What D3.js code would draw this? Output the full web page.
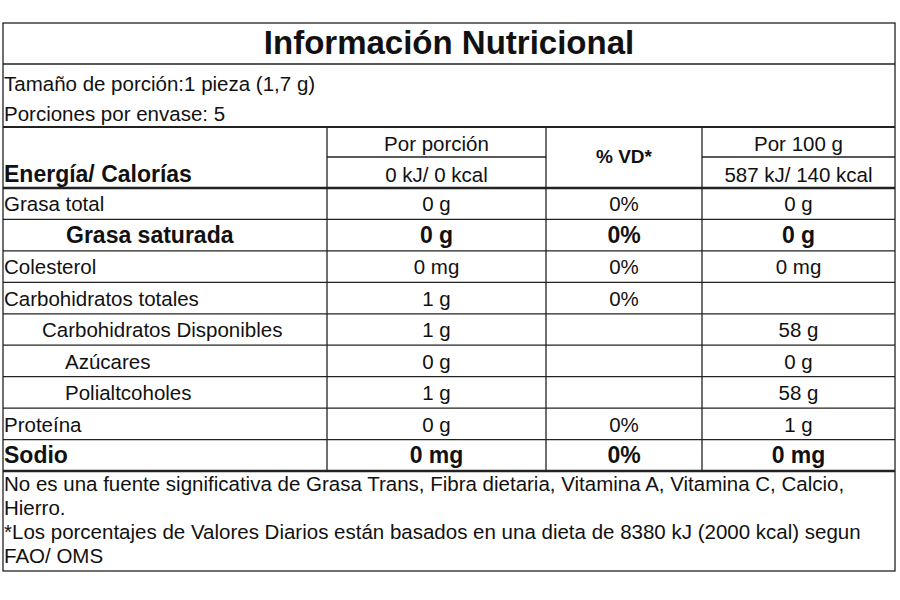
<!DOCTYPE html>
<html><head><meta charset="utf-8">
<script src="https://cdn.jsdelivr.net/npm/d3@7"></script>
<style>body{margin:0;background:#fff}text{font-family:"Liberation Sans",Arial,sans-serif;fill:#111}</style>
</head><body><svg width="900" height="600"></svg>
<script>
const title = "Información Nutricional";
const servingLines = ["Tamaño de porción:1 pieza (1,7 g)", "Porciones por envase: 5"];
const headerCols = ["Por porción", "% VD*", "Por 100 g"];
const energyLabel = "Energía/ Calorías";
const energyVals = ["0 kJ/ 0 kcal", "587 kJ/ 140 kcal"];
const nutrients = ["Grasa total","Grasa saturada","Colesterol","Carbohidratos totales","Carbohidratos Disponibles","Azúcares","Polialtcoholes","Proteína","Sodio"];
const perPortion = ["0 g","0 g","0 mg","1 g","1 g","0 g","1 g","0 g","0 mg"];
const vd = ["0%","0%","0%","0%","","","","0%","0%"];
const per100 = ["0 g","0 g","0 mg","","58 g","0 g","58 g","1 g","0 mg"];
const indent = [0,1,0,0,2,3,3,0,0];
const bold = [false,true,false,false,false,false,false,false,true];
const footer = ["No es una fuente significativa de Grasa Trans, Fibra dietaria, Vitamina A, Vitamina C, Calcio,","Hierro.","*Los porcentajes de Valores Diarios están basados en una dieta de 8380 kJ (2000 kcal) segun","FAO/ OMS"];

const svg = d3.select("svg");
const L=3,R=895,T=23,B=571;
const colX=[L,327,546,702,R];
const y = d3.scaleLinear().domain([0,nutrients.length]).range([188,471]);
const line=(x1,y1,x2,y2,w)=>svg.append("line").attr("x1",x1).attr("y1",y1).attr("x2",x2).attr("y2",y2).attr("stroke","#222").attr("stroke-width",w||1.3);
const text=(t,x,yy,o={})=>svg.append("text").text(t).attr("x",x).attr("y",yy).attr("font-size",o.s||20.5).attr("font-weight",o.b?"bold":"normal").attr("text-anchor",o.a||"start");

svg.append("rect").attr("x",L).attr("y",T).attr("width",R-L).attr("height",B-T).attr("fill","none").attr("stroke","#222").attr("stroke-width",1.3);
line(L,64,R,64);
text(title,449,54,{s:33,b:true,a:"middle"});
servingLines.forEach((s,i)=>text(s,4,91+i*30));
line(L,127,R,127,2.2);
line(L,188,R,188,2.5);
line(L,471,R,471,2.5);
[1,2,3].forEach(i=>line(colX[i],127,colX[i],471));
line(colX[1],157,colX[2],157); line(colX[3],157,R,157);
const cx=i=>(colX[i]+colX[i+1])/2;
text(headerCols[0],cx(1),151,{a:"middle"});
text(headerCols[1],cx(2),163,{a:"middle",b:true,s:19});
text(headerCols[2],cx(3),151,{a:"middle"});
text(energyLabel,4,182,{s:23,b:true});
text(energyVals[0],cx(1),182,{a:"middle"});
text(energyVals[1],cx(3),182,{a:"middle"});
const indentPx=[4,66,42,65];
nutrients.forEach((n,i)=>{
  if(i>0) line(L,y(i),R,y(i));
  const yy=y(i+1)-8, o={s:bold[i]?23:20.5,b:bold[i]};
  text(n,indentPx[indent[i]],yy,o);
  text(perPortion[i],cx(1),yy,{...o,a:"middle"});
  text(vd[i],cx(2),yy,{...o,a:"middle"});
  text(per100[i],cx(3),yy,{...o,a:"middle"});
});
footer.forEach((f,i)=>text(f,4,491+i*24));
</script></body></html>
